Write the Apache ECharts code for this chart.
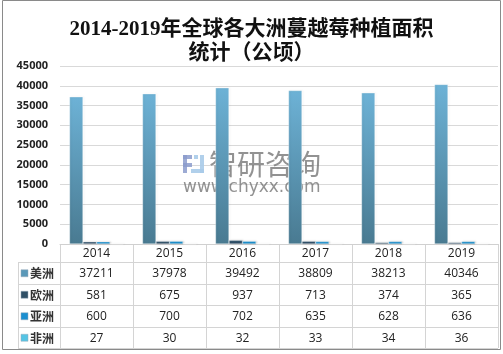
<!DOCTYPE html>
<html>
<head>
<meta charset="utf-8">
<script src="https://cdn.jsdelivr.net/npm/echarts@6/dist/echarts.min.js"></script>
<style>
  html, body { margin: 0; padding: 0; background: #fff; }
  #chart { width: 503px; height: 354px; }
</style>
</head>
<body>
<div id="chart"></div>
<script>
// 年份和各大洲数据（公顷）
const years = ['2014', '2015', '2016', '2017', '2018', '2019'];
const seriesNames = ['美洲', '欧洲', '亚洲', '非洲'];
const america = [37211, 37978, 39492, 38809, 38213, 40346];
const europe = [581, 675, 937, 713, 374, 365];
const asia = [600, 700, 702, 635, 628, 636];
const africa = [27, 30, 32, 33, 34, 36];
const yTicks = [0, 45000, 5000]; // min, max, interval

const allData = [america, europe, asia, africa];
const colors = [
  ['#6db2d6', '#497a91'],
  ['#3a5f78', '#27425a'],
  ['#239ad8', '#1683bf'],
  ['#62cbe8', '#4fb8d8']
];
const legendColors = ['#5a98b8', '#2f4f66', '#1b8fd0', '#55c4e4'];

const G = { left: 60, right: 5, top: 66, bottom: 110 };

const grad = (c) => new echarts.graphic.LinearGradient(0, 0, 0, 1, [
  { offset: 0, color: c[0] }, { offset: 1, color: c[1] }
]);

const dom = document.getElementById('chart');
const chart = echarts.init(dom);

const option = {
  animation: false,
  title: {
    text: '2014-2019年全球各大洲蔓越莓种植面积\n统计（公顷）',
    left: 'center',
    top: 13,
    textStyle: {
      fontFamily: "'Liberation Serif', 'Noto Sans CJK SC'",
      fontSize: 21,
      fontWeight: 'bold',
      color: '#111',
      lineHeight: 24
    }
  },
  grid: G,
  xAxis: {
    type: 'category',
    data: years,
    axisLine: { lineStyle: { color: '#d0d0d0' } },
    axisTick: { show: false },
    axisLabel: { show: false }
  },
  yAxis: {
    type: 'value',
    min: yTicks[0],
    max: yTicks[1],
    interval: yTicks[2],
    axisLine: { show: false },
    axisTick: { show: false },
    splitLine: { lineStyle: { color: '#d9d9d9' } },
    axisLabel: {
      margin: 12,
      color: '#222',
      fontSize: 11,
      fontWeight: 'bold',
      fontFamily: "'Open Sans', sans-serif",
      formatter: (v) => String(v)
    }
  },
  series: allData.map((d, i) => ({
    name: seriesNames[i],
    type: 'bar',
    data: d,
    barGap: '0%',
    barCategoryGap: '26%',
    itemStyle: {
      color: grad(colors[i]),
      borderColor: 'rgba(255,255,255,0.35)',
      borderWidth: 0.5,
      shadowColor: 'rgba(0,0,0,0.25)',
      shadowBlur: 2,
      shadowOffsetX: 1
    }
  }))
};

chart.setOption(option);

// 数据表 + 水印
function buildGraphic() {
  const els = [];
  const W = dom.clientWidth, H = dom.clientHeight;
  const x0 = G.left, x1 = W - G.right;
  const yTop = H - G.bottom;
  const colW = (x1 - x0) / years.length;
  const yearRowH = 18;
  const rowH = 21.5;
  const labelX = 18;
  const txt = { fontSize: 12, fill: '#222', fontFamily: "'Open Sans', sans-serif", align: 'center', verticalAlign: 'middle' };
  const lineStyle = { stroke: '#d4d4d4', lineWidth: 1 };

  // 外框
  els.push({ type: 'rect', shape: { x: 2.5, y: 0.5, width: W - 5, height: H - 5 }, style: { fill: 'none', stroke: '#8a8a8a', lineWidth: 1 }, silent: true });

  const yBottom = yTop + yearRowH + rowH * seriesNames.length;
  // 横线
  els.push({ type: 'line', shape: { x1: x0, y1: yTop + 0.5, x2: x1, y2: yTop + 0.5 }, style: lineStyle });
  for (let r = 0; r <= seriesNames.length; r++) {
    const y = Math.round(yTop + yearRowH + r * rowH) + 0.5;
    els.push({ type: 'line', shape: { x1: labelX, y1: y, x2: x1, y2: y }, style: lineStyle });
  }
  // 竖线
  for (let c = 0; c <= years.length; c++) {
    const x = Math.round(x0 + c * colW) + 0.5;
    els.push({ type: 'line', shape: { x1: x, y1: yTop, x2: x, y2: yBottom }, style: lineStyle });
  }
  els.push({ type: 'line', shape: { x1: labelX + 0.5, y1: yTop + yearRowH, x2: labelX + 0.5, y2: yBottom }, style: lineStyle });

  // 年份
  years.forEach((yr, c) => {
    const cx = chart.convertToPixel({ xAxisIndex: 0 }, yr);
    els.push({ type: 'text', x: cx, y: yTop + yearRowH / 2 + 1, style: Object.assign({ text: yr }, txt) });
  });

  // 数据行
  seriesNames.forEach((name, r) => {
    const cy = yTop + yearRowH + r * rowH + rowH / 2 + 1;
    els.push({ type: 'rect', shape: { x: labelX + 3, y: cy - 4, width: 7, height: 7 }, style: { fill: legendColors[r], stroke: '#9ab', lineWidth: 0.5 } });
    els.push({ type: 'text', x: labelX + 12, y: cy, style: { text: name, fontSize: 12, fontWeight: 'bold', fill: '#333', fontFamily: "'Noto Sans CJK SC'", align: 'left', verticalAlign: 'middle' } });
    allData[r].forEach((v, c) => {
      const cx = chart.convertToPixel({ xAxisIndex: 0 }, years[c]);
      els.push({ type: 'text', x: cx, y: cy, style: Object.assign({ text: String(v) }, txt) });
    });
  });

  // 水印
  const wx = 183, wy = 153;
  els.push({
    type: 'group', x: wx, y: wy, silent: true,
    children: [
      { type: 'rect', shape: { x: 0, y: 2, width: 9, height: 4 }, style: { fill: '#8c9ccc', opacity: 0.85 } },
      { type: 'rect', shape: { x: 0, y: 2, width: 4, height: 18 }, style: { fill: '#8c9ccc', opacity: 0.85 } },
      { type: 'rect', shape: { x: 0, y: 10, width: 9, height: 4 }, style: { fill: '#8c9ccc', opacity: 0.85 } },
      { type: 'rect', shape: { x: 11, y: 2, width: 4, height: 4 }, style: { fill: '#a9cbe9', opacity: 0.9 } },
      { type: 'rect', shape: { x: 17, y: 2, width: 4, height: 18 }, style: { fill: '#a9cbe9', opacity: 0.9 } },
      { type: 'rect', shape: { x: 8, y: 16, width: 13, height: 4 }, style: { fill: '#a9cbe9', opacity: 0.9 } },
      { type: 'text', x: 26, y: 11, style: { text: '智研咨询', fontSize: 28, fill: 'rgba(110,110,110,0.75)', fontFamily: "'Noto Sans CJK SC'", verticalAlign: 'middle', align: 'left' } },
      { type: 'text', x: 0, y: 35, style: { text: 'www.chyxx.com', fontSize: 17, fill: 'rgba(110,110,110,0.75)', fontFamily: "'DejaVu Sans', sans-serif", verticalAlign: 'middle', align: 'left' } }
    ]
  });

  chart.setOption({ graphic: { elements: els } });
}

buildGraphic();

window.addEventListener('resize', function () {
  chart.resize();
  buildGraphic();
});
</script>
</body>
</html>
